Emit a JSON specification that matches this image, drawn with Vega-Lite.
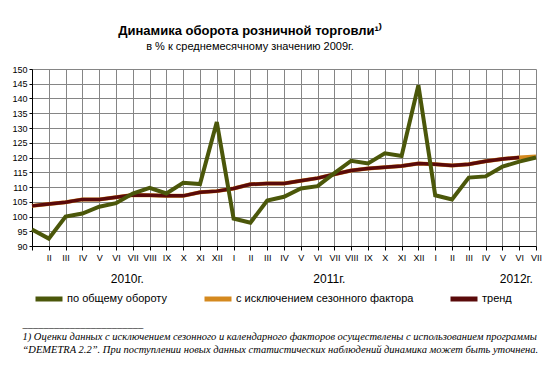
{
  "$schema": "https://vega.github.io/schema/vega-lite/v6.json",
  "width": 504,
  "height": 177,
  "autosize": {"type": "none"},
  "padding": {"left": 32, "top": 69, "right": 23, "bottom": 121},
  "background": "white",
  "title": {
    "text": "Динамика оборота розничной торговли¹⁾",
    "subtitle": "в % к среднемесячному значению 2009г.",
    "font": "Liberation Sans", "fontSize": 13, "fontWeight": "bold", "color": "black",
    "subtitleFont": "Liberation Sans", "subtitleFontSize": 11, "subtitleColor": "black",
    "anchor": "middle", "dx": -34, "offset": 13, "subtitlePadding": 3
  },
  "data": {"values": [
    {"i":0,"series":"по общему обороту","value":95.6},
    {"i":1,"series":"по общему обороту","value":92.5},
    {"i":2,"series":"по общему обороту","value":100.0},
    {"i":3,"series":"по общему обороту","value":101.0},
    {"i":4,"series":"по общему обороту","value":103.3},
    {"i":5,"series":"по общему обороту","value":104.5},
    {"i":6,"series":"по общему обороту","value":107.8},
    {"i":7,"series":"по общему обороту","value":109.7},
    {"i":8,"series":"по общему обороту","value":107.8},
    {"i":9,"series":"по общему обороту","value":111.4},
    {"i":10,"series":"по общему обороту","value":111.0},
    {"i":11,"series":"по общему обороту","value":132.0},
    {"i":12,"series":"по общему обороту","value":99.3},
    {"i":13,"series":"по общему обороту","value":97.9},
    {"i":14,"series":"по общему обороту","value":105.4},
    {"i":15,"series":"по общему обороту","value":106.7},
    {"i":16,"series":"по общему обороту","value":109.5},
    {"i":17,"series":"по общему обороту","value":110.3},
    {"i":18,"series":"по общему обороту","value":114.7},
    {"i":19,"series":"по общему обороту","value":118.9},
    {"i":20,"series":"по общему обороту","value":118.0},
    {"i":21,"series":"по общему обороту","value":121.4},
    {"i":22,"series":"по общему обороту","value":120.5},
    {"i":23,"series":"по общему обороту","value":144.5},
    {"i":24,"series":"по общему обороту","value":107.2},
    {"i":25,"series":"по общему обороту","value":105.8},
    {"i":26,"series":"по общему обороту","value":113.2},
    {"i":27,"series":"по общему обороту","value":113.6},
    {"i":28,"series":"по общему обороту","value":116.9},
    {"i":29,"series":"по общему обороту","value":118.6},
    {"i":30,"series":"по общему обороту","value":120.0},
    {"i":0,"series":"с исключением сезонного фактора","value":103.6},
    {"i":1,"series":"с исключением сезонного фактора","value":104.2},
    {"i":2,"series":"с исключением сезонного фактора","value":104.8},
    {"i":3,"series":"с исключением сезонного фактора","value":105.8},
    {"i":4,"series":"с исключением сезонного фактора","value":105.8},
    {"i":5,"series":"с исключением сезонного фактора","value":106.5},
    {"i":6,"series":"с исключением сезонного фактора","value":107.3},
    {"i":7,"series":"с исключением сезонного фактора","value":107.2},
    {"i":8,"series":"с исключением сезонного фактора","value":107.0},
    {"i":9,"series":"с исключением сезонного фактора","value":107.0},
    {"i":10,"series":"с исключением сезонного фактора","value":108.2},
    {"i":11,"series":"с исключением сезонного фактора","value":108.6},
    {"i":12,"series":"с исключением сезонного фактора","value":109.5},
    {"i":13,"series":"с исключением сезонного фактора","value":110.9},
    {"i":14,"series":"с исключением сезонного фактора","value":111.2},
    {"i":15,"series":"с исключением сезонного фактора","value":111.2},
    {"i":16,"series":"с исключением сезонного фактора","value":112.1},
    {"i":17,"series":"с исключением сезонного фактора","value":113.0},
    {"i":18,"series":"с исключением сезонного фактора","value":114.3},
    {"i":19,"series":"с исключением сезонного фактора","value":115.6},
    {"i":20,"series":"с исключением сезонного фактора","value":116.3},
    {"i":21,"series":"с исключением сезонного фактора","value":116.7},
    {"i":22,"series":"с исключением сезонного фактора","value":117.1},
    {"i":23,"series":"с исключением сезонного фактора","value":118.0},
    {"i":24,"series":"с исключением сезонного фактора","value":117.7},
    {"i":25,"series":"с исключением сезонного фактора","value":117.3},
    {"i":26,"series":"с исключением сезонного фактора","value":117.7},
    {"i":27,"series":"с исключением сезонного фактора","value":118.7},
    {"i":28,"series":"с исключением сезонного фактора","value":119.5},
    {"i":29,"series":"с исключением сезонного фактора","value":120.0},
    {"i":30,"series":"с исключением сезонного фактора","value":120.3},
    {"i":0,"series":"тренд","value":103.6},
    {"i":1,"series":"тренд","value":104.2},
    {"i":2,"series":"тренд","value":104.8},
    {"i":3,"series":"тренд","value":105.8},
    {"i":4,"series":"тренд","value":105.8},
    {"i":5,"series":"тренд","value":106.5},
    {"i":6,"series":"тренд","value":107.3},
    {"i":7,"series":"тренд","value":107.2},
    {"i":8,"series":"тренд","value":107.0},
    {"i":9,"series":"тренд","value":107.0},
    {"i":10,"series":"тренд","value":108.2},
    {"i":11,"series":"тренд","value":108.6},
    {"i":12,"series":"тренд","value":109.5},
    {"i":13,"series":"тренд","value":110.9},
    {"i":14,"series":"тренд","value":111.2},
    {"i":15,"series":"тренд","value":111.2},
    {"i":16,"series":"тренд","value":112.1},
    {"i":17,"series":"тренд","value":113.0},
    {"i":18,"series":"тренд","value":114.3},
    {"i":19,"series":"тренд","value":115.6},
    {"i":20,"series":"тренд","value":116.3},
    {"i":21,"series":"тренд","value":116.7},
    {"i":22,"series":"тренд","value":117.1},
    {"i":23,"series":"тренд","value":118.0},
    {"i":24,"series":"тренд","value":117.7},
    {"i":25,"series":"тренд","value":117.3},
    {"i":26,"series":"тренд","value":117.7},
    {"i":27,"series":"тренд","value":118.7},
    {"i":28,"series":"тренд","value":119.5},
    {"i":29,"series":"тренд","value":120.0}
  ]},
  "encoding": {
    "y": {
      "field": "value", "type": "quantitative",
      "scale": {"domain": [90, 150], "nice": false, "zero": false},
      "axis": {
        "values": [90,95,100,105,110,115,120,125,130,135,140,145,150],
        "title": null, "grid": true, "gridColor": "#858585", "gridWidth": 1,
        "tickSize": 3, "tickColor": "black", "domainColor": "black",
        "labelPadding": 2, "labelFont": "Liberation Sans", "labelFontSize": 9,
        "labelColor": "black", "labelFlush": false, "labelOverlap": false
      }
    },
    "color": {
      "field": "series", "type": "nominal",
      "scale": {
        "domain": ["по общему обороту", "с исключением сезонного фактора", "тренд"],
        "range": ["#4B570A", "#D4891E", "#5A0A0A"]
      },
      "legend": {
        "orient": "none", "legendX": 1, "legendY": 214, "direction": "horizontal",
        "title": null, "symbolType": "stroke", "symbolSize": 729, "symbolStrokeWidth": 5,
        "labelFont": "Liberation Sans", "labelFontSize": 11, "labelColor": "black",
        "labelOffset": 2, "columnPadding": 26, "labelLimit": 400, "padding": 0
      }
    }
  },
  "layer": [
    {
      "transform": [{"filter": {"field": "series", "equal": "с исключением сезонного фактора"}}],
      "mark": {"type": "line", "strokeWidth": 4},
      "encoding": {
        "x": {
          "field": "i", "type": "quantitative",
          "scale": {"domain": [0, 30], "nice": false, "zero": false},
          "axis": {
            "orient": "bottom",
            "values": [5.64, 17.67, 28.8],
            "labelExpr": "datum.value < 10 ? '2010г.' : (datum.value < 20 ? '2011г.' : '2012г.')",
            "grid": false, "ticks": false, "domain": false,
            "labelPadding": 27, "labelFont": "Liberation Sans", "labelFontSize": 12,
            "labelColor": "black", "labelFlush": false, "labelOverlap": false,
            "title": [
              "_______________________",
              "1) Оценки  данных с исключением  сезонного и календарного  факторов осуществлены с использованием  программы",
              "\u00a0\u00a0\u00a0\u00a0\u00a0“DEMETRA 2.2”. При поступлении новых данных статистических наблюдений динамика может быть уточнена."
            ],
            "titleFont": "Liberation Serif", "titleFontStyle": "italic", "titleFontWeight": "normal",
            "titleFontSize": 10.5, "titleColor": "black", "titleAnchor": "start", "titleAlign": "left",
            "titleBaseline": "top", "titleX": -10, "titleY": 72, "titleLineHeight": 13
          }
        }
      }
    },
    {
      "transform": [{"filter": {"field": "series", "equal": "тренд"}}],
      "mark": {"type": "line", "strokeWidth": 3.5},
      "encoding": {
        "x": {
          "field": "i", "type": "quantitative",
          "scale": {"domain": [0, 30], "nice": false, "zero": false},
          "axis": {
            "orient": "bottom",
            "values": [0,1,2,3,4,5,6,7,8,9,10,11,12,13,14,15,16,17,18,19,20,21,22,23,24,25,26,27,28,29,30],
            "labelExpr": "datum.value == 0 ? '' : ['I','II','III','IV','V','VI','VII','VIII','IX','X','XI','XII'][datum.value % 12]",
            "title": null, "grid": true, "gridColor": "#858585", "gridWidth": 1,
            "tickSize": 4, "tickColor": "black", "domainColor": "black",
            "labelPadding": 3, "labelFont": "Liberation Sans", "labelFontSize": 9,
            "labelColor": "black", "labelFlush": false, "labelOverlap": false, "labelBound": false
          }
        }
      }
    },
    {
      "transform": [{"filter": {"field": "series", "equal": "по общему обороту"}}],
      "mark": {"type": "line", "strokeWidth": 4},
      "encoding": {
        "x": {
          "field": "i", "type": "quantitative",
          "scale": {"domain": [0, 30], "nice": false, "zero": false},
          "axis": null
        }
      }
    }
  ],
  "resolve": {"axis": {"x": "independent"}},
  "config": {"view": {"stroke": null}}
}
